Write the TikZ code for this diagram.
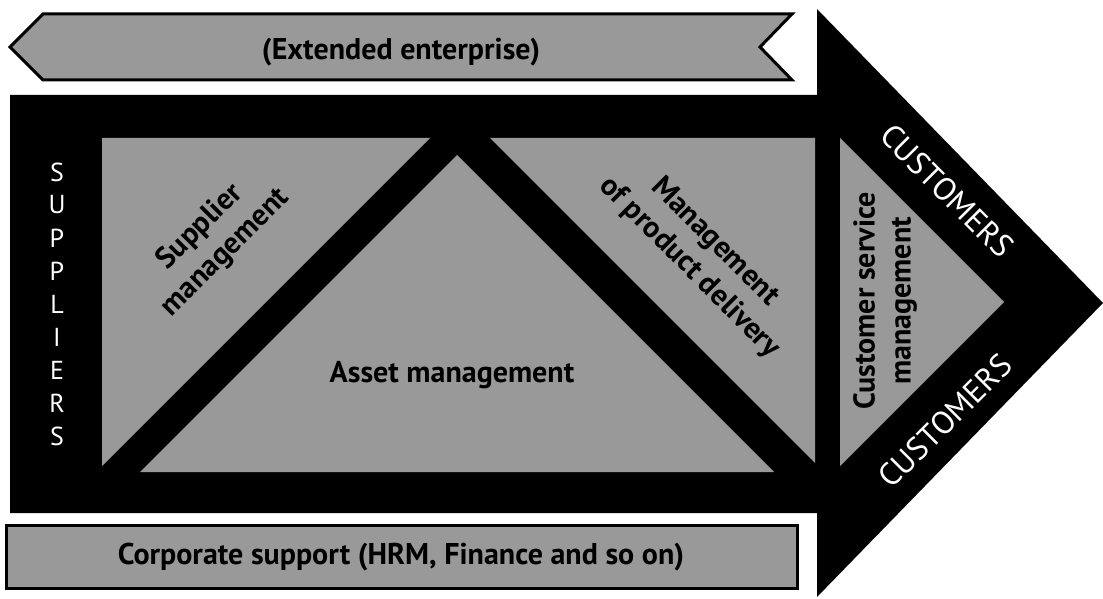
\documentclass[tikz,border=0pt]{standalone}
\usepackage{fontspec}
\setmainfont{PT Sans}
\usetikzlibrary{positioning}

\begin{document}
\begin{tikzpicture}[
  x=1pt, y=-1pt,
  panel/.style={fill=black!40},
  band/.style={panel, draw=black, line width=3pt},
  lbl/.style={font=\fontsize{30}{36}\selectfont\bfseries, align=center, inner sep=0pt},
  rim/.style={font=\fontsize{32}{36}\selectfont, text=white, inner sep=0pt},
]
  \useasboundingbox (0,0) rectangle (1103,599);
  \fill[white] (0,0) rectangle (1103,599);

  % extended enterprise banner, pointing back to the suppliers
  \draw[band] (10,47) -- (43,14) -- (792,14) -- (760,47) -- (792,80) -- (43,80) -- cycle;
  \node[lbl] (ext) at (401,52) {(Extended enterprise)};

  % the big black arrow
  \fill (10,95) -- (817,95) -- (817,9) -- (1103,303) -- (817,597) -- (817,513) -- (10,513) -- cycle;

  % management fields
  \fill[panel] (102,138) -- (430,138) -- (102,466) -- cycle;
  \fill[panel] (457,155) -- (774,472) -- (140,472) -- cycle;
  \fill[panel] (490,138) -- (815,138) -- (815,463) -- cycle;
  \fill[panel] (840,138) -- (1004,302) -- (840,466) -- cycle;

  \node[lbl, rotate=45] (supm) at (213,240) {Supplier\\management};
  \node[lbl] (asset) at (452,375) {Asset management};
  \node[lbl, rotate=-45] (deliv) at (702,255) {Management\\of product delivery};
  \node[lbl, rotate=90] (csm) at (885,301) {Customer service\\management};

  % suppliers column
  \foreach \c [count=\i from 0] in {S,U,P,P,L,I,E,R,S}
    \node[rim, font=\fontsize{26}{26}\selectfont] (sup\i) at (57,172+33*\i) {\c};

  % customers along the arrow head
  \node[rim, rotate=-45] (custa) at (947,191) {CUSTOMERS};
  \node[rim, rotate=45] (custb) at (945,421) {CUSTOMERS};

  % corporate support bar
  \draw[band] (6,525) rectangle (797,588);
  \node[lbl] (corp) at (401,557) {Corporate support (HRM, Finance and so on)};
\end{tikzpicture}
\end{document}
